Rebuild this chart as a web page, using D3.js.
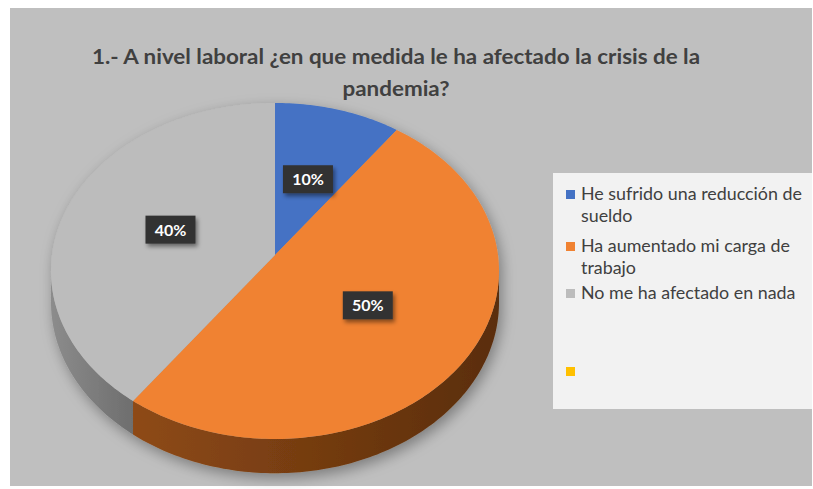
<!DOCTYPE html>
<html>
<head>
<meta charset="utf-8">
<script src="https://cdn.jsdelivr.net/npm/d3@7"></script>
<style>
  html, body { margin: 0; padding: 0; background: #ffffff; }
  svg { display: block; }
</style>
</head>
<body>
<svg id="chart" width="813" height="489"></svg>
<script>
// Survey answers and their shares (percent)
const categories = [
  "He sufrido una reducción de sueldo",
  "Ha aumentado mi carga de trabajo",
  "No me ha afectado en nada",
  ""
];
const values = [10, 50, 40, 0];
const legendLines = [
  ["He sufrido una reducción de", "sueldo"],
  ["Ha aumentado mi carga de", "trabajo"],
  ["No me ha afectado en nada"],
  [""]
];
const titleLines = [
  "1.- A nivel laboral ¿en que medida le ha afectado la crisis de la",
  "pandemia?"
];
const faceColors = ["#4472c4", "#f08232", "#bcbcbc", "#ffc000"];
const sideColors = [
  ["#2f5597", "#203864"],
  ["#8e4a16", "#5a2d0b"],
  ["#8c8c8c", "#6e6e6e"],
  ["#bf9000", "#7f6000"]
];

const svg = d3.select("#chart");
const W = 813, H = 489;

// Grey chart area
svg.append("rect")
  .attr("x", 10).attr("y", 8).attr("width", W - 11).attr("height", 478)
  .attr("fill", "#bfbfbf");

const defs = svg.append("defs");
const pieShadow = defs.append("filter").attr("id", "pieShadow")
  .attr("x", "-20%").attr("y", "-20%").attr("width", "140%").attr("height", "140%");
pieShadow.append("feDropShadow")
  .attr("dx", 3).attr("dy", 5).attr("stdDeviation", 7)
  .attr("flood-color", "#000").attr("flood-opacity", 0.35);

const boxShadow = defs.append("filter").attr("id", "boxShadow")
  .attr("x", "-30%").attr("y", "-30%").attr("width", "160%").attr("height", "160%");
boxShadow.append("feDropShadow")
  .attr("dx", 2).attr("dy", 3).attr("stdDeviation", 2)
  .attr("flood-color", "#000").attr("flood-opacity", 0.45);

sideColors.forEach((c, i) => {
  const g = defs.append("linearGradient").attr("id", "side" + i)
    .attr("x1", "0%").attr("x2", "100%").attr("y1", "0%").attr("y2", "0%");
  g.append("stop").attr("offset", "0%").attr("stop-color", c[0]);
  g.append("stop").attr("offset", "100%").attr("stop-color", c[1]);
});

// Title, condensed to its line width
const title = svg.append("g").attr("font-family", "Lato, 'Open Sans', sans-serif")
  .attr("font-weight", "bold").attr("fill", "#404040").attr("text-anchor", "middle");
const titleSize = 21;
titleLines.forEach((t, i) => {
  title.append("text").attr("x", 396).attr("y", 64 + i * 32)
    .attr("font-size", titleSize).text(t);
});
title.selectAll("text").each(function (d, i) {
  const w = this.getComputedTextLength();
  const target = i === 0 ? 608 : null;
  const ratio = i === 0 ? target / w : (title.select("text").attr("data-r") || 1);
  if (i === 0) title.select("text").attr("data-r", ratio);
  d3.select(this).attr("textLength", w * ratio).attr("lengthAdjust", "spacingAndGlyphs");
});

// Pie in perspective: a tilted disc projected toward the viewer
const ox = 275, oy = 255;          // projected centre of the disc
const A = 223, B = 166.5, k = 0.095, depth = 31;
const project = (r, a, dz = 0) => {
  const p = 1 / (1 + k * r * Math.cos(a));
  return [ox + A * r * Math.sin(a) * p, oy - B * r * Math.cos(a) * p + dz * p];
};

const arcs = d3.pie().sort(null).value(d => d)(values);

function rimPoints(a0, a1, dz) {
  const n = Math.max(2, Math.ceil((a1 - a0) / (Math.PI / 180)));
  return d3.range(n + 1).map(j => project(1, a0 + (a1 - a0) * j / n, dz));
}

const pie = svg.append("g").attr("filter", "url(#pieShadow)");

// Visible front wall between the two silhouette points
const wallStart = Math.acos(-k), wallEnd = 2 * Math.PI - Math.acos(-k);
arcs.forEach((d, i) => {
  if (d.value <= 0) return;
  const a0 = Math.max(d.startAngle, wallStart);
  const a1 = Math.min(d.endAngle, wallEnd);
  if (a1 <= a0) return;
  const top = rimPoints(a0, a1, 0);
  const bottom = rimPoints(a0, a1, depth).reverse();
  pie.append("path")
    .attr("d", d3.line()(top.concat(bottom)) + "Z")
    .attr("fill", "url(#side" + i + ")");
});

// Top faces
arcs.forEach((d, i) => {
  if (d.value <= 0) return;
  const pts = [project(0, 0)].concat(rimPoints(d.startAngle, d.endAngle, 0));
  pie.append("path")
    .attr("d", d3.line()(pts) + "Z")
    .attr("fill", faceColors[i]);
});

// Value labels
const fmt = d3.format(".0%");
const labels = svg.append("g").attr("font-family", "Lato, 'Open Sans', sans-serif");
arcs.forEach((d, i) => {
  if (d.value <= 0) return;
  const [x, y] = project(0.5, (d.startAngle + d.endAngle) / 2);
  labels.append("rect")
    .attr("x", x - 25).attr("y", y - 14).attr("width", 50).attr("height", 28)
    .attr("fill", "#333333").attr("filter", "url(#boxShadow)");
  labels.append("text")
    .attr("x", x).attr("y", y + 6).attr("text-anchor", "middle")
    .attr("font-size", 16).attr("font-weight", "bold").attr("fill", "#ffffff")
    .text(fmt(d.value / 100));
});

// Legend
const legend = svg.append("g").attr("font-family", "Lato, 'Open Sans', sans-serif");
legend.append("rect")
  .attr("x", 553).attr("y", 173).attr("width", W - 554).attr("height", 236)
  .attr("fill", "#f2f2f2");
const entryY = [195, 247, 294, 372];
const lineGap = 22;
categories.forEach((c, i) => {
  legend.append("rect")
    .attr("x", 566).attr("y", entryY[i] - 5).attr("width", 9).attr("height", 9)
    .attr("fill", faceColors[i]);
  legendLines[i].forEach((t, j) => {
    legend.append("text")
      .attr("class", "lg")
      .attr("x", 581).attr("y", entryY[i] + 5 + j * lineGap)
      .attr("font-size", 15).attr("fill", "#404040").text(t);
  });
});
(function () {
  const n = legend.select("text.lg").node();
  const w = n.getComputedTextLength();
  const fs = 15 * 221 / w;
  legend.selectAll("text.lg").attr("font-size", fs);
})();
</script>
</body>
</html>
